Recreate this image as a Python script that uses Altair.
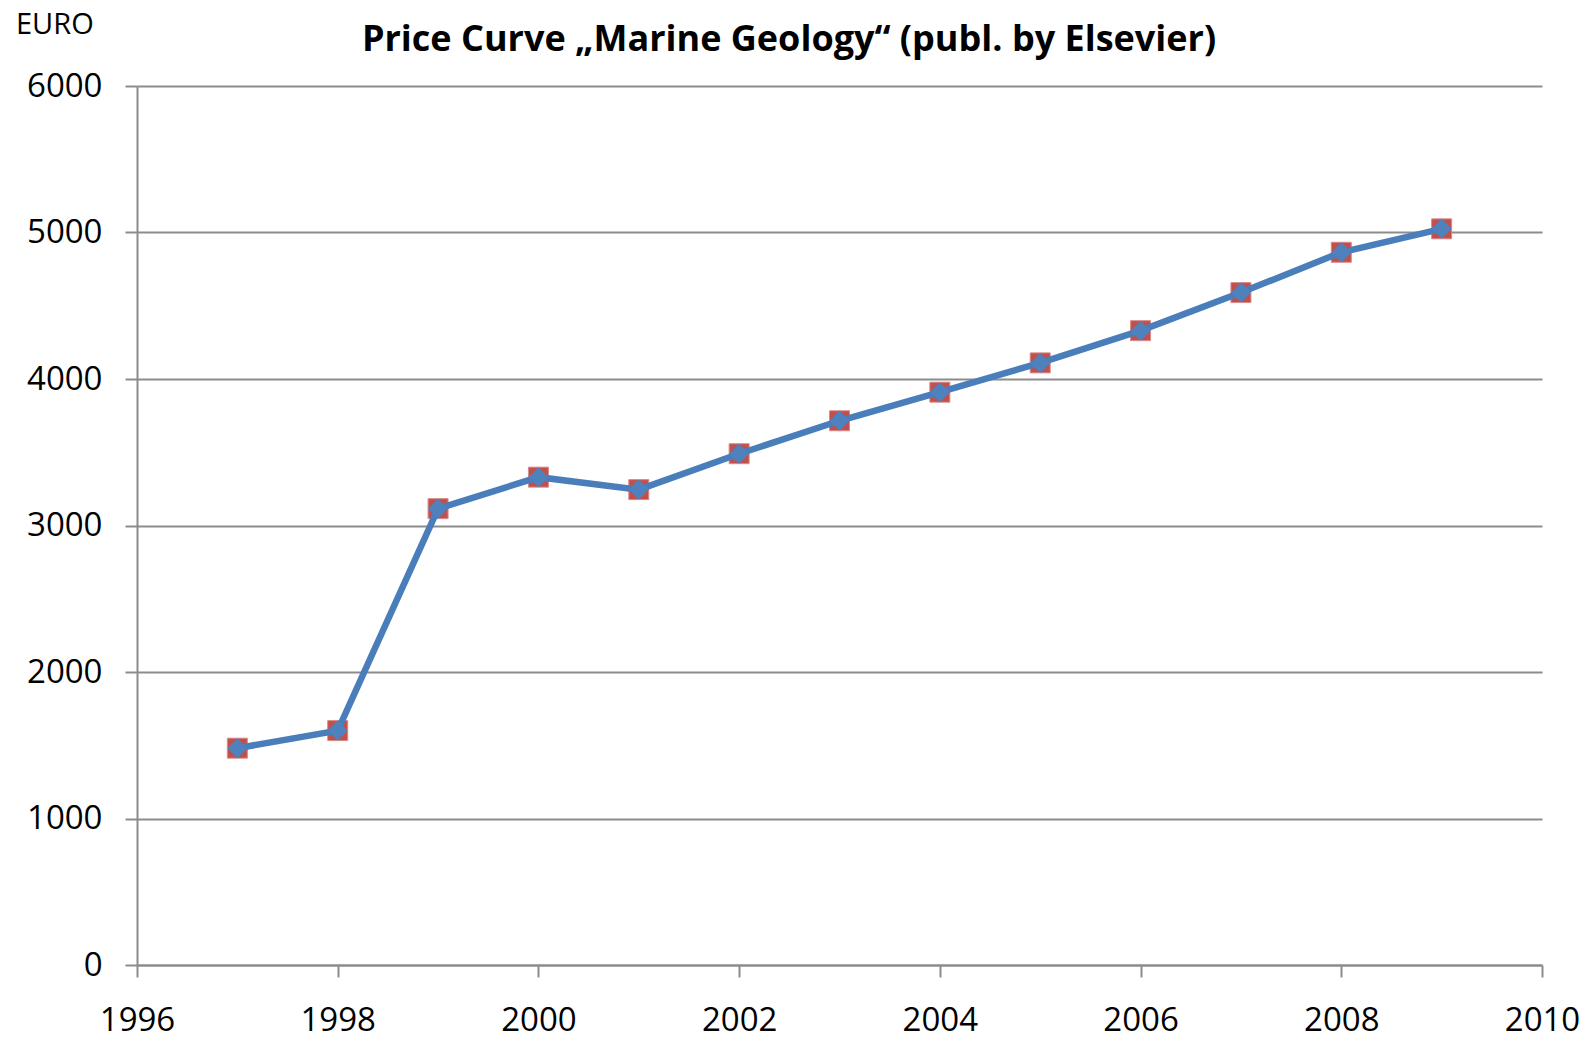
import altair as alt
import pandas as pd

years = [1997, 1998, 1999, 2000, 2001, 2002, 2003, 2004, 2005, 2006, 2007, 2008, 2009]
price_line = [1480, 1600, 3115, 3330, 3245, 3490, 3715, 3910, 4110, 4330, 4590, 4865, 5025]
price_marker = [1480, 1600, 3115, 3330, 3245, 3490, 3715, 3910, 4110, 4330, 4590, 4865, 5025]
x_ticks = [1996, 1998, 2000, 2002, 2004, 2006, 2008, 2010]
y_ticks = [0, 1000, 2000, 3000, 4000, 5000, 6000]
title_text = "Price Curve \u201eMarine Geology\u201c (publ. by Elsevier)"
unit_text = "EURO"

df = pd.DataFrame({"year": years, "line": price_line, "marker": price_marker})

FONT = "Open Sans"
GRID = "#8c8c8c"

x_enc = alt.X(
    "year:Q",
    scale=alt.Scale(domain=[1996, 2010], nice=False, zero=False),
    axis=alt.Axis(values=x_ticks, format="d", grid=False, title=None,
                  labelPadding=27, labelFlush=False),
)
y_axis = alt.Axis(values=y_ticks, format="d", grid=True, title=None, labelPadding=23)
y_line = alt.Y("line:Q", scale=alt.Scale(domain=[0, 6000], nice=False), axis=y_axis)

base = alt.Chart(df)

squares = base.mark_point(shape="square", filled=True, size=400, color="#c0504d",
                          stroke="#d98b89", strokeWidth=1, opacity=1).encode(
    x=x_enc, y=alt.Y("marker:Q", scale=alt.Scale(domain=[0, 6000], nice=False), axis=y_axis)
)
line = base.mark_line(color="#4a7ebb", strokeWidth=6.5).encode(x=x_enc, y=y_line)
diamonds = base.mark_point(shape="diamond", filled=True, size=400, color="#4f81bd",
                           opacity=1).encode(x=x_enc, y=y_line)

title = alt.Chart(pd.DataFrame({"t": [title_text]})).mark_text(
    font=FONT, fontSize=36, fontWeight="bold", color="black",
    align="center", baseline="middle",
).encode(x=alt.value(652), y=alt.value(-46), text="t:N")

unit = alt.Chart(pd.DataFrame({"t": [unit_text]})).mark_text(
    font=FONT, fontSize=29, color="black", align="left", baseline="middle",
).encode(x=alt.value(-121), y=alt.value(-61), text="t:N")

chart = alt.layer(squares, line, diamonds, title, unit).properties(
    width=1405,
    height=879,
    autosize=alt.AutoSizeParams(type="none"),
    padding={"left": 129, "top": 78, "right": 40, "bottom": 75},
).configure_view(stroke=None).configure_axis(
    labelFont=FONT, labelFontSize=33, labelColor="black",
    domainColor=GRID, domainWidth=2, tickColor=GRID, tickWidth=2, tickSize=12,
    gridColor=GRID, gridWidth=2,
)

chart.save("out.html", embed_options={"renderer": "svg", "actions": False})
